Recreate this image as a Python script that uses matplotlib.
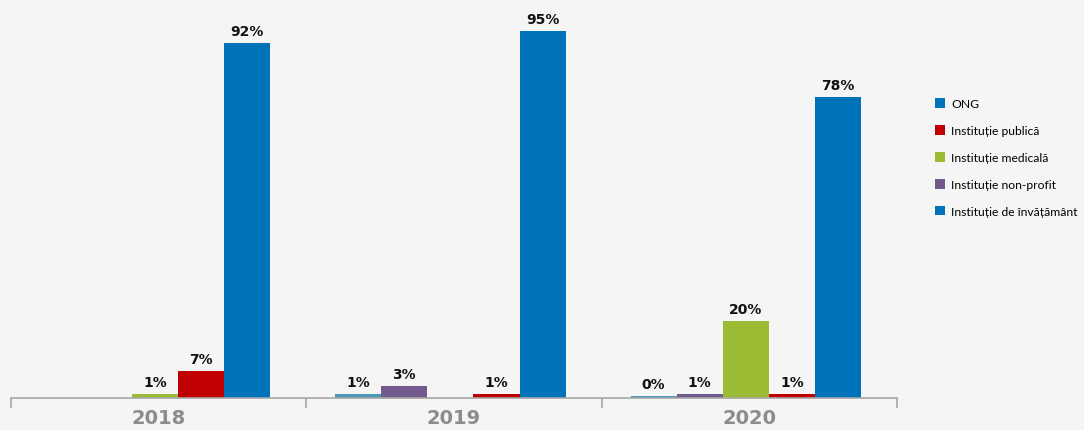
import matplotlib
matplotlib.use("Agg")
import matplotlib.pyplot as plt
from matplotlib.patches import Patch
import numpy as np

years = ["2018", "2019", "2020"]
# slot order within each year group
series_names = ["ONG", "Instituție non-profit", "Instituție medicală",
                "Instituție publică", "Instituție de învățământ"]
ong = [np.nan, 1, 0.4]
non_profit = [np.nan, 3, 1]
medicala = [1, np.nan, 20]
publica = [7, 1, 1]
invatamant = [92, 95, 78]
labels_ong = ["", "1%", "0%"]
labels_non_profit = ["", "3%", "1%"]
labels_medicala = ["1%", "", "20%"]
labels_publica = ["7%", "1%", "1%"]
labels_invatamant = ["92%", "95%", "78%"]

legend_names = ["ONG", "Instituție publică", "Instituție medicală",
                "Instituție non-profit", "Instituție de învățământ"]

bar_colors = ["#4a9ab5", "#725a8f", "#9bbb34", "#c00000", "#0072b9"]
legend_colors = ["#0072b9", "#c00000", "#9bbb34", "#725a8f", "#0072b9"]

bg = "#f5f5f5"
fig = plt.figure(figsize=(10.84, 4.31), dpi=100, facecolor=bg)
W, Hf = 1084, 431
ax = fig.add_axes([11 / W, 32 / Hf, (897 - 11) / W, (431 - 32) / Hf])
ax.set_facecolor(bg)

values = [ong, non_profit, medicala, publica, invatamant]
labels = [labels_ong, labels_non_profit, labels_medicala, labels_publica, labels_invatamant]

x = np.arange(len(years))
bw = 0.156
offsets = (np.arange(5) - 2) * bw - 0.012
for i in range(5):
    vals = np.array(values[i], dtype=float)
    xs = x + offsets[i]
    ax.bar(xs, vals, width=bw, color=bar_colors[i], linewidth=0)
    for xi, v, lab in zip(xs, vals, labels[i]):
        if lab and not np.isnan(v):
            ax.text(xi, v + 1.3, lab, ha="center", va="bottom",
                    fontsize=10, fontweight="bold", color="#111111")

ax.set_xlim(-0.5, len(years) - 0.5)
ax.set_ylim(0, 103.3)
for s in ["top", "right", "left"]:
    ax.spines[s].set_visible(False)
ax.spines["bottom"].set_color("#a6a6a6")
ax.spines["bottom"].set_linewidth(1.2)
ax.set_yticks([])
ax.set_xticks(np.arange(len(years) + 1) - 0.5, minor=True)
ax.tick_params(axis="x", which="minor", length=7, width=1.2, color="#a6a6a6")
ax.set_xticks(x)
ax.set_xticklabels(years, fontsize=14, fontweight="bold", color="#8c8c8c")
ax.tick_params(axis="x", which="major", length=0, pad=7)

handles = [Patch(facecolor=c, edgecolor="none") for c in legend_colors]
fig.legend(handles, legend_names, loc="upper left",
           bbox_to_anchor=(929 / W, 1 - 93 / Hf), frameon=False,
           prop={"family": "Lato", "size": 8.7}, handlelength=0.85, handleheight=0.85,
           handletextpad=0.5, labelspacing=1.32, borderpad=0)

fig.savefig("out.png", dpi=100, facecolor=bg)
